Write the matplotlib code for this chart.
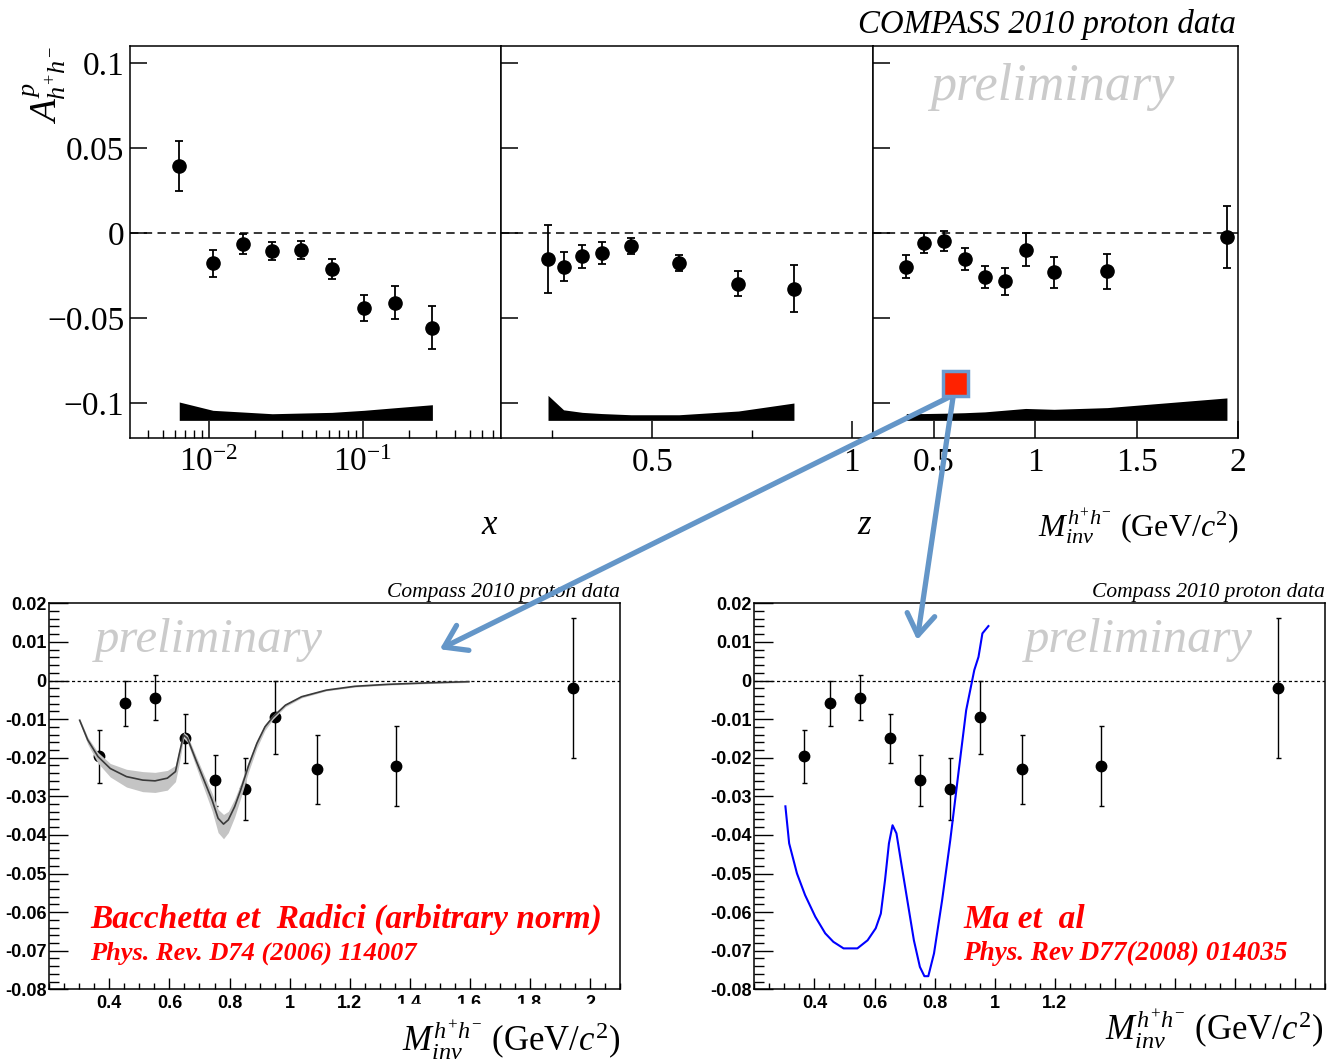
import matplotlib
matplotlib.use("Agg")
import matplotlib.pyplot as plt
from matplotlib.lines import Line2D
from matplotlib.patches import ConnectionPatch, Rectangle
from matplotlib.ticker import FixedLocator, LogLocator, MultipleLocator, NullFormatter

plt.rcParams["font.family"] = ["Liberation Serif", "DejaVu Serif"]
plt.rcParams["mathtext.fontset"] = "custom"
plt.rcParams["mathtext.rm"] = "Liberation Serif"
plt.rcParams["mathtext.it"] = "Liberation Serif:italic"
plt.rcParams["mathtext.bf"] = "Liberation Serif:bold"

# asymmetry vs x
x_bins = [0.0064, 0.0106, 0.0166, 0.0258, 0.0399, 0.0628, 0.1015, 0.161, 0.284]
x_asym = [0.0398, -0.0177, -0.0063, -0.0104, -0.0098, -0.0211, -0.0439, -0.0407, -0.0555]
x_err = [0.0147, 0.0077, 0.0060, 0.0052, 0.0051, 0.0060, 0.0078, 0.0098, 0.0125]
x_sys = [0.0108, 0.0059, 0.0049, 0.0039, 0.0043, 0.0047, 0.0059, 0.0074, 0.0092]

# asymmetry vs z
z_bins = [0.239, 0.278, 0.325, 0.374, 0.447, 0.567, 0.716, 0.855]
z_asym = [-0.0150, -0.0195, -0.0136, -0.0116, -0.0073, -0.0175, -0.0297, -0.0327]
z_err = [0.0202, 0.0086, 0.0065, 0.0065, 0.0047, 0.0048, 0.0074, 0.0138]
z_sys = [0.0147, 0.0062, 0.0047, 0.0040, 0.0033, 0.0033, 0.0055, 0.0102]

# asymmetry vs invariant mass
m_bins = [0.364, 0.452, 0.552, 0.651, 0.751, 0.851, 0.952, 1.092, 1.355, 1.944]
m_asym = [-0.0196, -0.0059, -0.0045, -0.0150, -0.0258, -0.0281, -0.0095, -0.0230, -0.0222, -0.0020]
m_err = [0.0069, 0.0059, 0.0058, 0.0064, 0.0066, 0.0080, 0.0095, 0.0089, 0.0103, 0.0181]
m_sys = [0.0040, 0.0040, 0.0042, 0.0045, 0.0050, 0.0060, 0.0070, 0.0065, 0.0075, 0.0132]
sys_base = -0.110

# Bacchetta-Radici prediction with uncertainty band
br_mass = [0.301, 0.328, 0.362, 0.403, 0.457, 0.511, 0.552, 0.593, 0.620, 0.633, 0.647,
           0.660, 0.688, 0.715, 0.742, 0.762, 0.780, 0.796, 0.817, 0.837, 0.864, 0.891,
           0.918, 0.945, 0.986, 1.040, 1.122, 1.217, 1.325, 1.461, 1.597]
br_curve = [-0.0103, -0.0154, -0.0197, -0.0228, -0.0249, -0.0258, -0.0260, -0.0253, -0.0236,
            -0.0189, -0.0141, -0.0150, -0.0206, -0.0258, -0.0310, -0.0357, -0.0372, -0.0361,
            -0.0327, -0.0284, -0.0219, -0.0163, -0.0120, -0.0094, -0.0064, -0.0042, -0.0025,
            -0.0015, -0.0010, -0.0006, -0.0003]
br_lo = [-0.0108, -0.0165, -0.0214, -0.0250, -0.0276, -0.0288, -0.0290, -0.0284, -0.0262,
         -0.0214, -0.0150, -0.0160, -0.0222, -0.0280, -0.0338, -0.0394, -0.0410, -0.0394,
         -0.0354, -0.0305, -0.0235, -0.0175, -0.0129, -0.0100, -0.0068, -0.0045, -0.0027,
         -0.0017, -0.0012, -0.0008, -0.0005]
br_hi = [-0.0098, -0.0147, -0.0186, -0.0215, -0.0230, -0.0236, -0.0238, -0.0233, -0.0220,
         -0.0176, -0.0134, -0.0142, -0.0195, -0.0244, -0.0292, -0.0334, -0.0347, -0.0339,
         -0.0307, -0.0267, -0.0207, -0.0154, -0.0113, -0.0089, -0.0060, -0.0039, -0.0023,
         -0.0013, -0.0008, -0.0004, -0.0001]

# Ma et al. prediction
ma_mass = [0.3035, 0.316, 0.342, 0.369, 0.403, 0.436, 0.463, 0.497, 0.543, 0.577, 0.604,
           0.621, 0.635, 0.648, 0.660, 0.673, 0.691, 0.711, 0.731, 0.751, 0.766, 0.779,
           0.798, 0.825, 0.852, 0.879, 0.905, 0.932, 0.946, 0.959, 0.979]
ma_curve = [-0.0326, -0.0422, -0.0500, -0.0556, -0.0612, -0.0655, -0.0677, -0.0694, -0.0694,
            -0.0673, -0.0642, -0.0604, -0.0517, -0.0422, -0.0375, -0.0396, -0.0483, -0.0578,
            -0.0673, -0.0742, -0.0766, -0.0766, -0.0707, -0.0569, -0.0414, -0.0241, -0.0077,
            0.0027, 0.0061, 0.0122, 0.0141]

top_yticks = [-0.1, -0.05, 0, 0.05, 0.1]
top_ylabels = ["\u22120.1", "\u22120.05", "0", "0.05", "0.1"]
bot_yticks = [-0.08, -0.07, -0.06, -0.05, -0.04, -0.03, -0.02, -0.01, 0, 0.01, 0.02]
bot_ylabels = ["-0.08", "-0.07", "-0.06", "-0.05", "-0.04", "-0.03", "-0.02", "-0.01",
               "0", "0.01", "0.02"]
bot_xticks = [0.4, 0.6, 0.8, 1.0, 1.2, 1.4, 1.6, 1.8, 2.0]
bot_xlabels = ["0.4", "0.6", "0.8", "1", "1.2", "1.4", "1.6", "1.8", "2"]

W, H = 1333, 1061
fig = plt.figure(figsize=(W / 100, H / 100), dpi=100)


def box(l, t, r, b):
    return [l / W, 1 - b / H, (r - l) / W, (b - t) / H]


ax_x = fig.add_axes(box(130, 46, 500.5, 437.7))
ax_z = fig.add_axes(box(500.5, 46, 873, 437.7))
ax_m = fig.add_axes(box(873, 46, 1238.3, 437.7))
ax_br = fig.add_axes(box(49.3, 603.3, 620, 989.3))
ax_ma = fig.add_axes(box(754.3, 603.3, 1325.3, 989.3))

GREY_TEXT = "#cbcbcb"


def style_top(ax, xs, ys, es, sysh):
    ax.set_ylim(-0.1202, 0.1102)
    ax.axhline(0, color="black", ls=(0, (5.5, 3.5)), lw=1.1, zorder=1)
    ax.fill_between(xs, sys_base, [sys_base + h for h in sysh], color="black", lw=0, zorder=2)
    ax.errorbar(xs, ys, yerr=es, fmt="o", color="black", ms=9.5, capsize=2.8,
                elinewidth=1.3, capthick=1.3, zorder=3)
    for s in ax.spines.values():
        s.set_linewidth(1.1)
    ax.yaxis.set_major_locator(FixedLocator(top_yticks))
    ax.tick_params(which="major", direction="in", length=12, width=1.1, labelsize=24,
                   pad=7, top=False, right=False)
    ax.tick_params(which="minor", direction="in", length=6, width=1.0, top=False, right=False)
    ax.tick_params(axis="y", which="minor", left=False)


style_top(ax_x, x_bins, x_asym, x_err, x_sys)
style_top(ax_z, z_bins, z_asym, z_err, z_sys)
style_top(ax_m, m_bins, m_asym, m_err, m_sys)

ax_x.set_yticks(top_yticks, top_ylabels)
ax_x.tick_params(axis="y", pad=4)
ax_z.tick_params(labelleft=False)
ax_m.tick_params(labelleft=False)

ax_x.set_xscale("log")
ax_x.set_xlim(0.00306, 0.788)
ax_x.set_xticks([0.01, 0.1], [r"$10^{-2}$", r"$10^{-1}$"])
ax_x.xaxis.set_minor_locator(LogLocator(base=10, subs=range(2, 10)))
ax_x.xaxis.set_minor_formatter(NullFormatter())

ax_z.set_xlim(0.12, 1.053)
ax_z.set_xticks([0.5, 1.0], ["0.5", "1"])
ax_z.xaxis.set_minor_locator(FixedLocator([0.25, 0.75]))

ax_m.set_xlim(0.2, 2.0)
ax_m.set_xticks([0.5, 1.0, 1.5, 2.0], ["0.5", "1", "1.5", "2"])

ax_x.text(-0.229, 1.0, r"$A^{p}_{h^{+}h^{-}}$", rotation=90, ha="center", va="top",
          fontsize=27, transform=ax_x.transAxes)
ax_x.text(0.972, -0.223, r"$x$", ha="center", va="center", fontsize=25,
          transform=ax_x.transAxes)
ax_z.text(0.9785, -0.223, r"$z$", ha="center", va="center", fontsize=25,
          transform=ax_z.transAxes)
ax_m.text(1.0, -0.228, r"$M_{inv}^{h^{+}h^{-}}$ (GeV/$c^{2}$)", ha="right", va="center",
          fontsize=23, transform=ax_m.transAxes)
ax_m.text(0.994, 1.033, "COMPASS 2010 proton data", ha="right", va="baseline",
          fontsize=23.7, style="italic", transform=ax_m.transAxes)
ax_m.text(0.157, 0.862, "preliminary", ha="left", va="baseline", fontsize=37.5,
          style="italic", color=GREY_TEXT, transform=ax_m.transAxes)


def style_bottom(ax, xlabels):
    ax.set_xlim(0.2, 2.1)
    ax.set_ylim(-0.08, 0.02)
    ax.axhline(0, color="black", ls=(0, (2.5, 2)), lw=0.9, zorder=1)
    ax.errorbar(m_bins, m_asym, yerr=m_err, fmt="o", color="black", ms=7.5, capsize=1.8,
                elinewidth=1.0, capthick=1.0, zorder=3)
    for s in ax.spines.values():
        s.set_linewidth(1.1)
    ax.set_xticks(bot_xticks, xlabels, fontfamily="Liberation Sans", fontweight="bold",
                  fontsize=13)
    ax.set_yticks(bot_yticks, bot_ylabels, fontfamily="Liberation Sans", fontweight="bold",
                  fontsize=13)
    ax.xaxis.set_minor_locator(MultipleLocator(0.05))
    ax.yaxis.set_minor_locator(MultipleLocator(0.002))
    ax.tick_params(axis="x", which="major", direction="in", length=8, width=1.0, pad=4)
    ax.tick_params(axis="x", which="minor", direction="in", length=4, width=1.0)
    ax.tick_params(axis="y", which="major", direction="in", length=14, width=1.0, pad=2)
    ax.tick_params(axis="y", which="minor", direction="in", length=7, width=1.0)
    ax.text(1.0, 1.016, "Compass 2010 proton data", ha="right", va="baseline",
            fontsize=15.5, style="italic", transform=ax.transAxes)


style_bottom(ax_br, bot_xlabels)
style_bottom(ax_ma, [lbl if t <= 1.2 else "" for t, lbl in zip(bot_xticks, bot_xlabels)])

ax_br.fill_between(br_mass, br_lo, br_hi, color="#c4c4c4", lw=0, zorder=4)
ax_br.plot(br_mass, br_curve, color="#3a3a3a", lw=1.2, zorder=5)
ax_ma.plot(ma_mass, ma_curve, color="#0000ff", lw=1.5, zorder=4)

ax_br.text(0.080, 0.874, "preliminary", fontsize=35, style="italic", color=GREY_TEXT,
           transform=ax_br.transAxes)
ax_ma.text(0.474, 0.874, "preliminary", fontsize=35, style="italic", color=GREY_TEXT,
           transform=ax_ma.transAxes)

ax_br.text(0.071, 0.159, "Bacchetta et  Radici (arbitrary norm)", color="red", fontsize=24,
           style="italic", fontweight="bold", transform=ax_br.transAxes)
ax_br.text(0.071, 0.076, "Phys. Rev. D74 (2006) 114007", color="red", fontsize=19,
           style="italic", fontweight="bold", transform=ax_br.transAxes)
ax_ma.text(0.3655, 0.159, "Ma et  al", color="red", fontsize=24, style="italic",
           fontweight="bold", transform=ax_ma.transAxes)
ax_ma.text(0.3655, 0.076, "Phys. Rev D77(2008) 014035", color="red", fontsize=19.5,
           style="italic", fontweight="bold", transform=ax_ma.transAxes)

mass_label = r"$M_{inv}^{h^{+}h^{-}}$ (GeV/$c^{2}$)"
ax_br.text(1.0, -0.131, mass_label, ha="right", va="center", fontsize=25,
           transform=ax_br.transAxes)
ax_ma.text(0.996, -0.103, mass_label, ha="right", va="center", fontsize=25,
           transform=ax_ma.transAxes)

# lower half of the last tick labels is hidden under the axis title box
fig.add_artist(Rectangle((395 / W, 1 - 1014 / H), 225 / W, 10 / H,
                         transform=fig.transFigure, color="white", zorder=2))

# pointers from the mass panel to the two model comparisons
ARROW = "#6496c8"
start = (0.596, -0.0951)
for target_ax, tip in ((ax_br, (1.5, 0.0081)), (ax_ma, (0.742, 0.0105))):
    con = ConnectionPatch(xyA=start, coordsA=ax_m.transData, xyB=tip,
                          coordsB=target_ax.transData,
                          arrowstyle="->,head_length=0.75,head_width=0.5",
                          mutation_scale=20, lw=3.8, color=ARROW, zorder=5,
                          capstyle="round", joinstyle="round")
    fig.add_artist(con)

fig.add_artist(Line2D([0.6035], [-0.0878], transform=ax_m.transData, marker="s", ms=18,
                      mfc="#ff2200", mec="#6a9bd0", mew=2.5, ls="none", zorder=6))

fig.savefig("out.png", dpi=100)
